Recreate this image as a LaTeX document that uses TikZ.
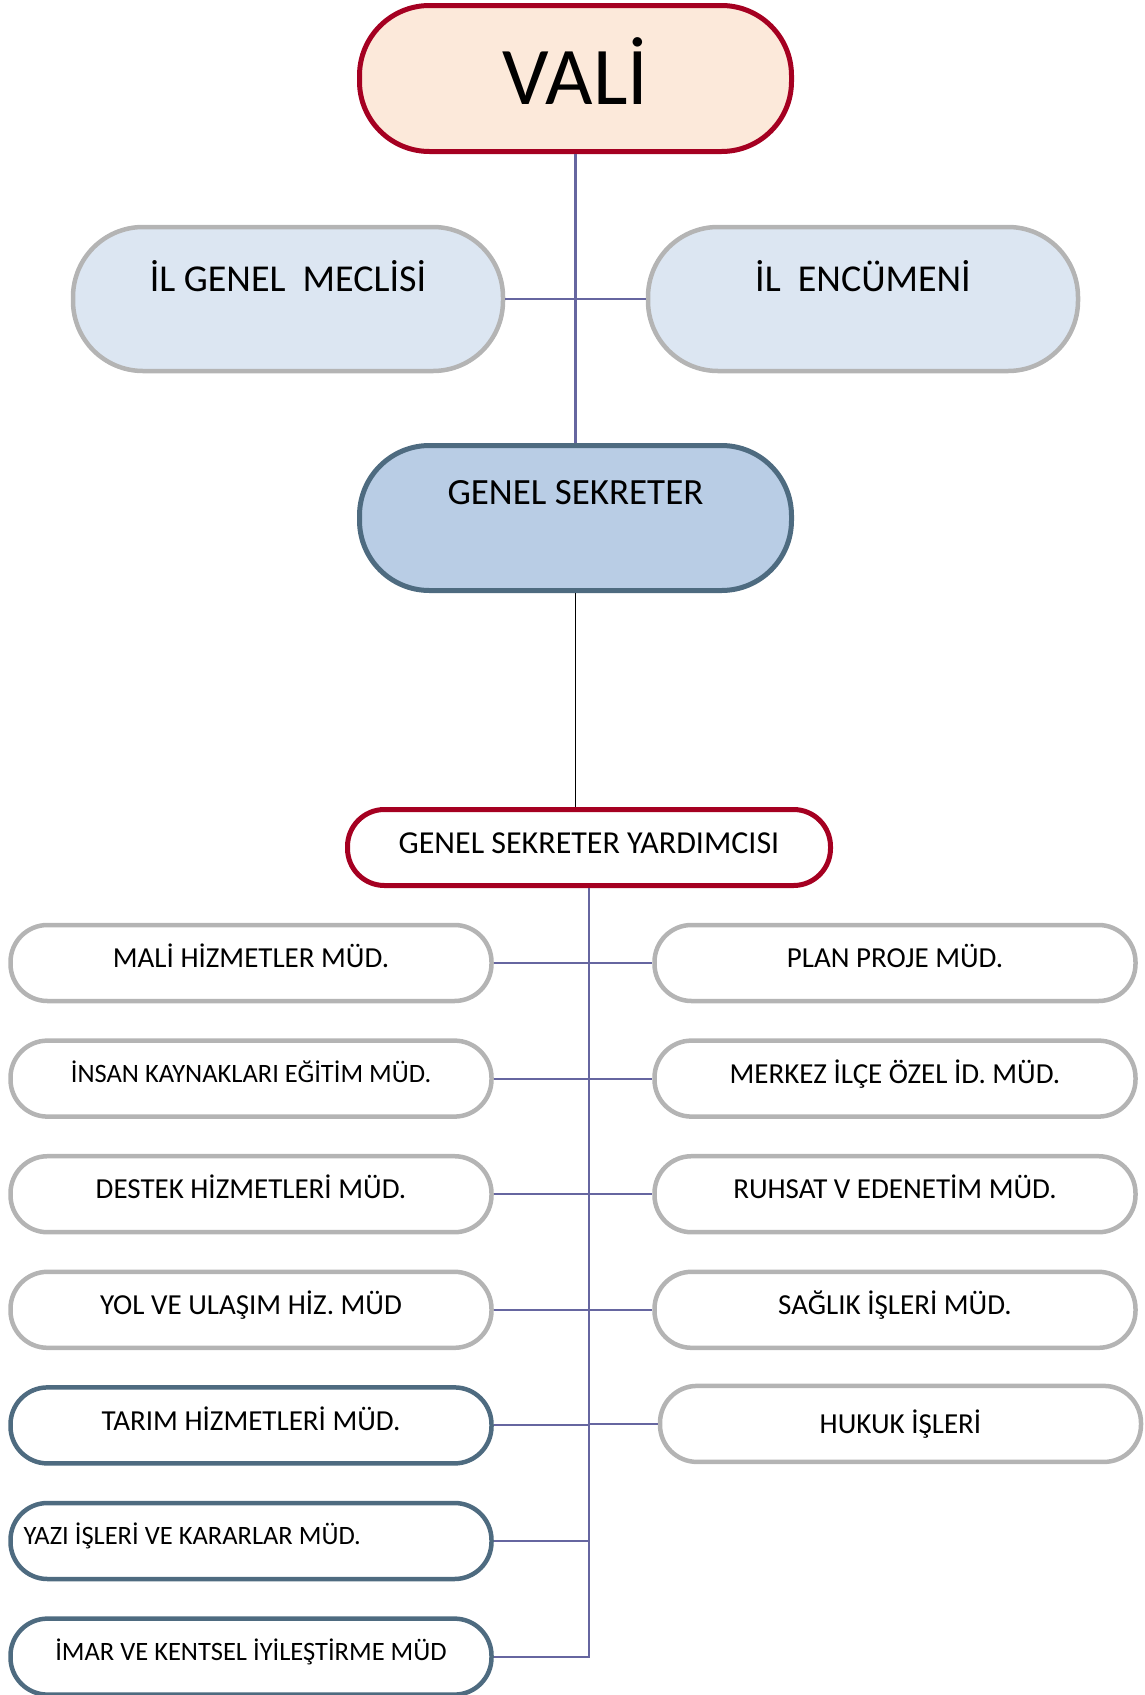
\documentclass[tikz,border=0pt]{standalone}
\usepackage{fontspec}
\setmainfont{Carlito}
\usepackage{tikz}
\usetikzlibrary{positioning,calc}
\definecolor{valired}{RGB}{165,0,33}
\definecolor{valifill}{RGB}{252,233,218}
\definecolor{boxgray}{RGB}{180,180,180}
\definecolor{paleblue}{RGB}{220,230,242}
\definecolor{secblue}{RGB}{185,205,229}
\definecolor{steel}{RGB}{78,107,128}
\definecolor{linkblue}{RGB}{102,102,160}
\tikzset{
	valibox/.style={rectangle, rounded corners=70pt, draw=valired, fill=valifill, line width=5pt, minimum width=432pt, minimum height=146pt, inner sep=0pt, font=\fontsize{82}{90}\selectfont, text height=52pt, text depth=-6pt},
	meclis/.style={rectangle, rounded corners=70pt, draw=boxgray, fill=paleblue, line width=4.5pt, minimum width=430pt, minimum height=144pt, inner sep=0pt, font=\fontsize{38}{44}\selectfont, text height=24pt, text depth=40pt},
	sekreter/.style={rectangle, rounded corners=70pt, draw=steel, fill=secblue, line width=5pt, minimum width=432pt, minimum height=145pt, inner sep=0pt, font=\fontsize{37}{42}\selectfont, text height=23.4pt, text depth=51pt},
	yardimci/.style={rectangle, rounded corners=37pt, draw=valired, fill=white, line width=5pt, minimum width=483pt, minimum height=76pt, inner sep=0pt, font=\fontsize{32}{36}\selectfont, text height=20.2pt, text depth=8pt},
	unit/.style={rectangle, rounded corners=37pt, draw=boxgray, fill=white, line width=4.5pt, minimum width=481pt, minimum height=76pt, inner sep=0pt, font=\fontsize{29}{33}\selectfont, text height=18.3pt, text depth=9pt},
	small/.style={font=\fontsize{26.5}{30}\selectfont, text height=16.7pt},
	dark/.style={draw=steel},
	link/.style={draw=linkblue, line width=2.1pt}
}

\begin{document}
\begin{tikzpicture}[x=1pt, y=-1pt, node distance=35.1pt and 158.5pt]
\useasboundingbox (0,0) rectangle (1145,1695);
\node[valibox] (Vali) at (575.5,78.5) {VALİ};
\node[meclis] (Meclis) at (288,299) {İL GENEL\ \ MECLİSİ};
\node[meclis] (Encumen) at (863,299) {İL\ \ ENCÜMENİ};
\node[sekreter] (GS) at (575.5,518) {GENEL SEKRETER};
\node[yardimci] (GSY) at (589,847.5) {GENEL SEKRETER YARDIMCISI};

% left column
\node[unit] (M1) at (251,963) {MALİ HİZMETLER MÜD.};
\node[unit,small] (M2) [below=of M1] {İNSAN KAYNAKLARI EĞİTİM MÜD.};
\node[unit] (M3) [below=of M2] {DESTEK HİZMETLERİ MÜD.};
\node[unit] (M4) [below=of M3] {YOL VE ULAŞIM HİZ. MÜD};
\node[unit,dark] (M5) [below=of M4] {TARIM HİZMETLERİ MÜD.};
\node[unit,dark,small] (M6) [below=of M5] {\makebox[455pt][l]{YAZI İŞLERİ VE KARARLAR MÜD.}};
\node[unit,dark,small] (M7) [below=of M6] {İMAR VE KENTSEL İYİLEŞTİRME MÜD};

% right column
\node[unit] (R1) [right=of M1] {PLAN PROJE MÜD.};
\node[unit] (R2) [right=of M2] {MERKEZ İLÇE ÖZEL İD. MÜD.};
\node[unit] (R3) [right=of M3] {RUHSAT V EDENETİM MÜD.};
\node[unit] (R4) [right=of M4] {SAĞLIK İŞLERİ MÜD.};
\node[unit,text depth=0pt] (R5) [right=of M5, xshift=5.5pt, yshift=1.5pt] {HUKUK İŞLERİ};

\draw[link] (Vali) -- (GS);
\draw[link] (Meclis) -- (Encumen);
\draw[line width=1.5pt] (GS.south) -- (GS.south |- GSY.north);

% the spine under the deputy
\draw[link] (GSY.south) -- (GSY.south |- M7.east) -- (M7.east);
\draw[link] (M1) -- (R1);
\draw[link] (M2) -- (R2);
\draw[link] (M3) -- (R3);
\draw[link] (M4) -- (R4);
\draw[link] (M5.east) -- (M5.east -| GSY.south);
\draw[link] (R5.west) -- (R5.west -| GSY.south);
\draw[link] (M6.east) -- (M6.east -| GSY.south);
\end{tikzpicture}
\end{document}
